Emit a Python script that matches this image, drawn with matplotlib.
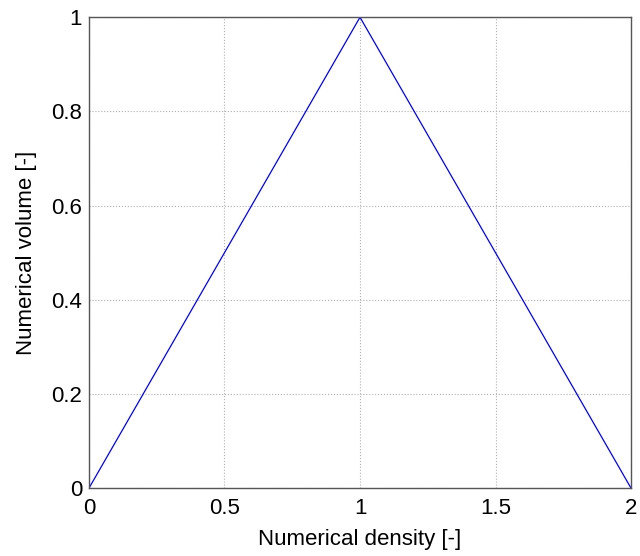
import matplotlib.pyplot as plt

# Data
density = [0, 1, 2]
volume = [0, 1, 0]
xticks = [0, 0.5, 1, 1.5, 2]
yticks = [0, 0.2, 0.4, 0.6, 0.8, 1]

plt.rcParams['font.family'] = ['Liberation Sans', 'DejaVu Sans']

fig = plt.figure(figsize=(6.4, 5.56), dpi=100)
ax = fig.add_axes([0.139, 0.122, 0.847, 0.847])

ax.plot(density, volume, color='#0000ff', linewidth=0.9)

ax.set_xlim(0, 2)
ax.set_ylim(0, 1)
ax.set_xticks(xticks)
ax.set_xticklabels(['0', '0.5', '1', '1.5', '2'])
ax.set_yticks(yticks)
ax.set_yticklabels(['0', '0.2', '0.4', '0.6', '0.8', '1'])
ax.tick_params(axis='y', length=0, labelsize=16, pad=5)
ax.tick_params(axis='x', length=0, labelsize=16, pad=7)
ax.grid(True, linestyle=':', color='#b0b0b0', linewidth=0.8)

for s in ax.spines.values():
    s.set_color('#555555')
    s.set_linewidth(1.0)

ax.set_xlabel('Numerical density [-]', fontsize=16, labelpad=7)
ax.set_ylabel('Numerical volume [-]', fontsize=16, labelpad=10)

fig.savefig('out.png', dpi=100)
